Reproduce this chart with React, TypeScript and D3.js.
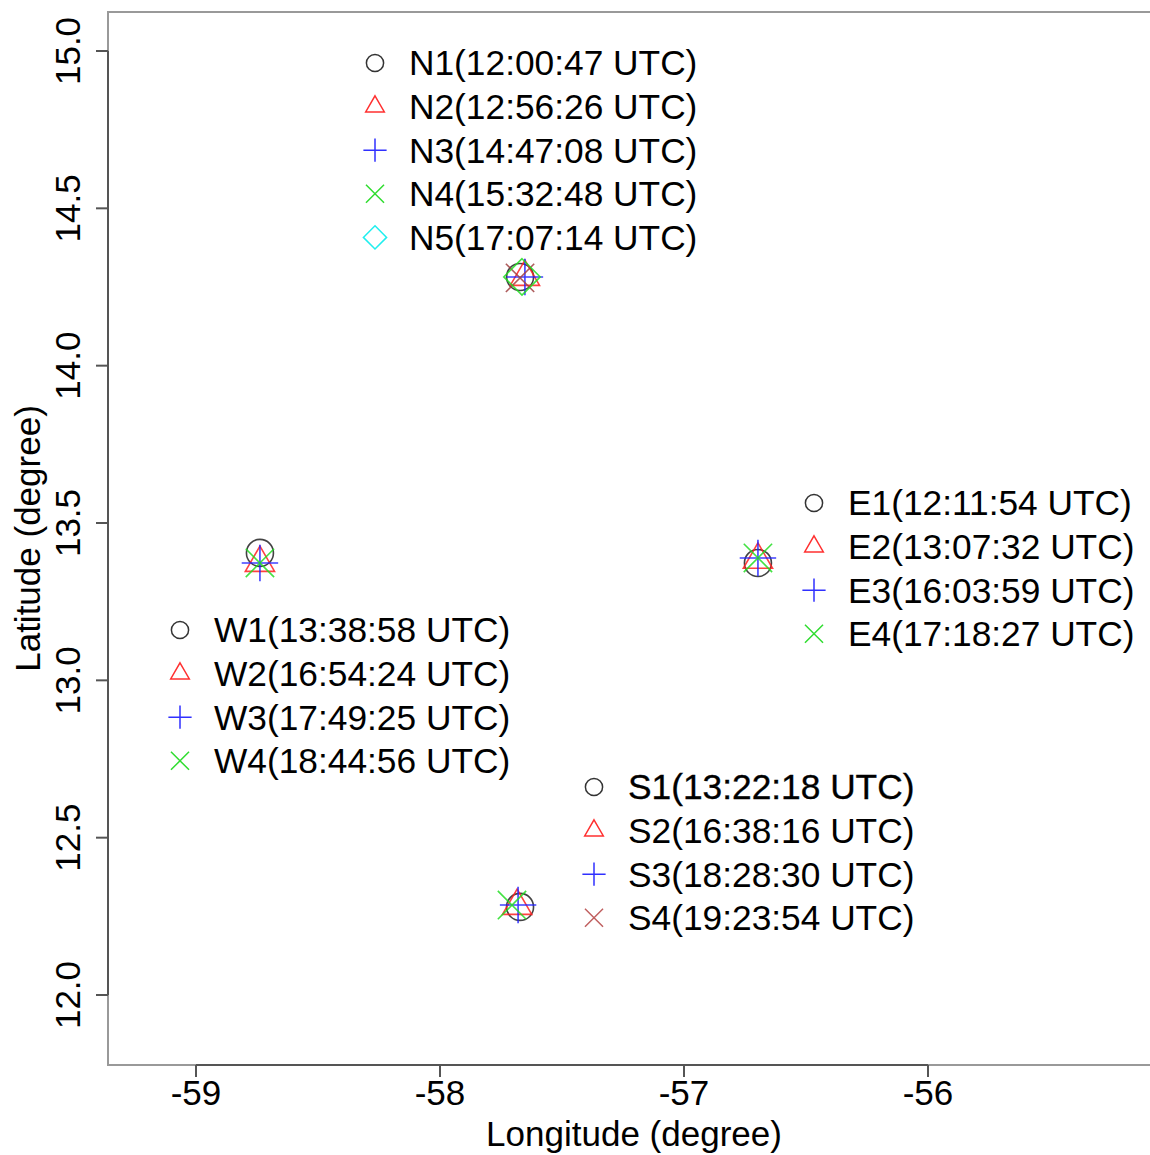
import React from "react";
import * as d3 from "d3";

const W = 1150;
const H = 1155;

// Axis ticks
const xTicks = [-59, -58, -57, -56];
const yTicks = [12.0, 12.5, 13.0, 13.5, 14.0, 14.5, 15.0];
const xDomain = [-59.3607, -55.0492];
const yDomain = [11.7776, 15.1239];

type Pt = { id: string; lon: number; lat: number; shape: string; color: string };

// Plotted points (cluster positions)
const northPoints: Pt[] = [
  { id: "N1", lon: -57.672, lat: 14.282, shape: "circle", color: "#222222" },
  { id: "N2", lon: -57.652, lat: 14.282, shape: "triangle", color: "#ff2020" },
  { id: "N3", lon: -57.652, lat: 14.282, shape: "plus", color: "#2020ff" },
  { id: "N4", lon: -57.672, lat: 14.279, shape: "cross", color: "#a04040" },
  { id: "N5", lon: -57.664, lat: 14.282, shape: "diamond", color: "#22dd22" },
];
const westPoints: Pt[] = [
  { id: "W1", lon: -58.738, lat: 13.405, shape: "circle", color: "#222222" },
  { id: "W2", lon: -58.738, lat: 13.373, shape: "triangle", color: "#ff2020" },
  { id: "W3", lon: -58.738, lat: 13.373, shape: "plus", color: "#2020ff" },
  { id: "W4", lon: -58.738, lat: 13.373, shape: "cross", color: "#22dd22" },
];
const eastPoints: Pt[] = [
  { id: "E1", lon: -56.697, lat: 13.373, shape: "circle", color: "#222222" },
  { id: "E2", lon: -56.697, lat: 13.383, shape: "triangle", color: "#ff2020" },
  { id: "E3", lon: -56.697, lat: 13.389, shape: "plus", color: "#2020ff" },
  { id: "E4", lon: -56.697, lat: 13.389, shape: "cross", color: "#22dd22" },
];
const southPoints: Pt[] = [
  { id: "S1", lon: -57.672, lat: 12.28, shape: "circle", color: "#222222" },
  { id: "S2", lon: -57.684, lat: 12.283, shape: "triangle", color: "#ff2020" },
  { id: "S3", lon: -57.68, lat: 12.286, shape: "plus", color: "#2020ff" },
  { id: "S4", lon: -57.705, lat: 12.286, shape: "cross", color: "#22dd22" },
];

// Legends
const northLegend = ["N1(12:00:47 UTC)", "N2(12:56:26 UTC)", "N3(14:47:08 UTC)", "N4(15:32:48 UTC)", "N5(17:07:14 UTC)"];
const eastLegend = ["E1(12:11:54 UTC)", "E2(13:07:32 UTC)", "E3(16:03:59 UTC)", "E4(17:18:27 UTC)"];
const westLegend = ["W1(13:38:58 UTC)", "W2(16:54:24 UTC)", "W3(17:49:25 UTC)", "W4(18:44:56 UTC)"];
const southLegend = ["S1(13:22:18 UTC)", "S2(16:38:16 UTC)", "S3(18:28:30 UTC)", "S4(19:23:54 UTC)"];

const legendShapes = ["circle", "triangle", "plus", "cross", "diamond"];
const legendColors = ["#333333", "#ff3030", "#3030ff", "#30dd30", "#20eeee"];
const southLegendColors = ["#333333", "#ff3030", "#3030ff", "#c06060"];

function markerPath(shape: string, s: number): string {
  if (shape === "circle") {
    return `M${-s},0A${s},${s} 0 1,0 ${s},0A${s},${s} 0 1,0 ${-s},0Z`;
  }
  if (shape === "triangle") {
    const r = s * 1.25;
    const hx = r * Math.sqrt(3) / 2;
    return `M0,${-r}L${hx},${r / 2}L${-hx},${r / 2}Z`;
  }
  if (shape === "plus") {
    const r = s * 1.35;
    return `M${-r},0L${r},0M0,${-r}L0,${r}`;
  }
  if (shape === "cross") {
    const r = s * 1.05;
    return `M${-r},${-r}L${r},${r}M${-r},${r}L${r},${-r}`;
  }
  if (shape === "diamond") {
    const r = s * 1.35;
    return `M0,${-r}L${r},0L0,${r}L${-r},0Z`;
  }
  return "";
}

const FONT = "'Liberation Sans', Arial, Helvetica, sans-serif";

function Legend({ x, y, labels, colors, bold }: { x: number; y: number; labels: string[]; colors: string[]; bold?: boolean }) {
  const step = 43.6;
  return (
    <g>
      {labels.map((lab, i) => (
        <g key={lab} transform={`translate(0, ${y + i * step})`}>
          <path
            d={markerPath(legendShapes[i], 8.6)}
            transform={`translate(${x}, 0)`}
            fill="none"
            stroke={colors[i]}
            strokeWidth={1.5}
          />
          <text
            x={x + 34}
            y={0}
            dy="0.35em"
            fontSize={35.3}
            fontFamily={FONT}
            fill="#000"
            stroke={bold && i === 0 ? "#000" : "none"}
            strokeWidth={bold && i === 0 ? 0.35 : 0}
          >
            {lab}
          </text>
        </g>
      ))}
    </g>
  );
}

export default function App() {
  const x = d3.scaleLinear().domain(xDomain).range([108, 1160]);
  const y = d3.scaleLinear().domain(yDomain).range([1065, 12]);
  const left = x(xDomain[0]);
  const right = x(xDomain[1]);
  const top = y(yDomain[1]);
  const bottom = y(yDomain[0]);
  const allPoints = [...northPoints, ...westPoints, ...eastPoints, ...southPoints];
  const axisColor = "#555";

  return (
    <svg width={W} height={H} style={{ position: "absolute", left: 0, top: 0, background: "#fff" }}>
      <rect x={0} y={0} width={W} height={H} fill="#fff" />
      {/* plot box */}
      <rect x={left} y={top} width={right - left} height={bottom - top} fill="none" stroke="#999" strokeWidth={2} />
      {/* x axis */}
      <line x1={x(xTicks[0])} x2={x(xTicks[xTicks.length - 1])} y1={bottom} y2={bottom} stroke={axisColor} strokeWidth={2} />
      {xTicks.map((t) => (
        <g key={t}>
          <line x1={x(t)} x2={x(t)} y1={bottom} y2={bottom + 12} stroke={axisColor} strokeWidth={2} />
          <text x={x(t)} y={bottom + 40} textAnchor="middle" fontSize={35} fontFamily={FONT} fill="#000">
            {String(t)}
          </text>
        </g>
      ))}
      <text x={(left + right) / 2} y={1146} textAnchor="middle" fontSize={35} fontFamily={FONT} fill="#000">
        Longitude (degree)
      </text>
      {/* y axis */}
      <line x1={left} x2={left} y1={y(yTicks[0])} y2={y(yTicks[yTicks.length - 1])} stroke={axisColor} strokeWidth={2} />
      {yTicks.map((t) => (
        <g key={t}>
          <line x1={left - 12} x2={left} y1={y(t)} y2={y(t)} stroke={axisColor} strokeWidth={2} />
          <text
            transform={`translate(${left - 28}, ${y(t)}) rotate(-90)`}
            textAnchor="middle"
            fontSize={35}
            fontFamily={FONT}
            fill="#000"
          >
            {t.toFixed(1)}
          </text>
        </g>
      ))}
      <text
        transform={`translate(40, ${(top + bottom) / 2}) rotate(-90)`}
        textAnchor="middle"
        fontSize={35}
        fontFamily={FONT}
        fill="#000"
      >
        Latitude (degree)
      </text>
      {/* points */}
      {allPoints.map((p) => (
        <path
          key={p.id}
          d={markerPath(p.shape, 13.5)}
          transform={`translate(${x(p.lon)}, ${y(p.lat)})`}
          fill="none"
          stroke={p.color}
          strokeWidth={1.6}
          strokeOpacity={0.85}
        />
      ))}
      {/* legends */}
      <Legend x={375} y={63} labels={northLegend} colors={legendColors} />
      <Legend x={814} y={503} labels={eastLegend} colors={legendColors} />
      <Legend x={180} y={630} labels={westLegend} colors={legendColors} />
      <Legend x={594} y={787} labels={southLegend} colors={southLegendColors} bold />
    </svg>
  );
}
